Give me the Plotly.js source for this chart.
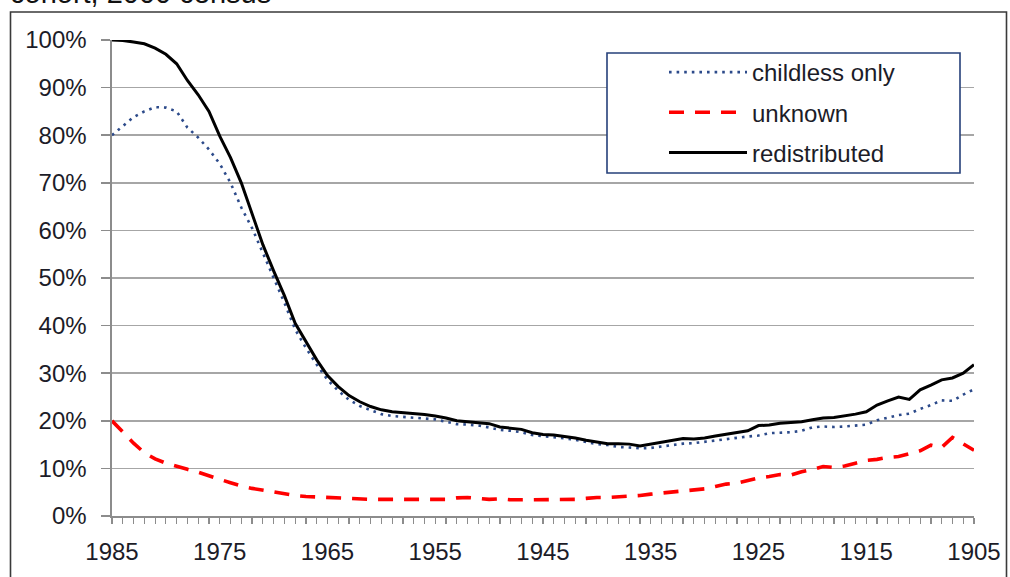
<!DOCTYPE html>
<html>
<head>
<meta charset="utf-8">
<script src="https://cdn.plot.ly/plotly-3.0.1.min.js"></script>
<style>html,body{margin:0;padding:0;background:#fff;}#chart{width:1010px;height:577px;}</style>
</head>
<body>
<div id="chart"></div>
<script>
// Birth cohort years (x axis runs from 1985 down to 1905)
const years = [];
for (let y = 1985; y >= 1905; y--) years.push(y);

// share childless only (1985 ... 1905)
const childlessOnly = [
  80.0, 82.0, 83.8, 85.0, 85.9, 85.8, 85.0, 81.6, 79.5, 77.0,
  74.0, 70.0, 64.8, 60.5, 55.3, 50.0, 44.8, 39.2, 35.3, 31.8,
  28.6, 26.3, 24.4, 23.1, 22.2, 21.4, 21.0, 20.8, 20.6, 20.5,
  20.3, 19.8, 19.3, 19.2, 19.0, 18.6, 18.1, 17.9, 17.6, 17.0,
  16.8, 16.6, 16.3, 16.0, 15.5, 15.1, 14.9, 14.5, 14.4, 14.2,
  14.3, 14.6, 14.9, 15.2, 15.3, 15.6, 15.9, 16.2, 16.4, 16.7,
  16.9, 17.4, 17.5, 17.6, 17.9, 18.6, 18.8, 18.7, 18.8, 19.0,
  19.2, 20.1, 20.7, 21.2, 21.5, 22.5, 23.3, 24.3, 24.2, 25.5,
  26.6
];

// share unknown
const unknown = [
  20.0, 17.6, 15.3, 13.3, 12.0, 11.1, 10.4, 9.8, 9.2, 8.4,
  7.7, 7.0, 6.3, 5.8, 5.4, 5.0, 4.6, 4.3, 4.1, 4.0,
  3.9, 3.7, 3.6, 3.5, 3.5, 3.5, 3.5, 3.4, 3.4, 3.4,
  3.4, 3.5, 3.8, 3.9, 3.7, 3.5, 3.6, 3.4, 3.4, 3.4,
  3.4, 3.4, 3.4, 3.5, 3.7, 3.9, 3.9, 4.0, 4.1, 4.3,
  4.6, 4.8, 5.0, 5.2, 5.5, 5.7, 6.2, 6.7, 6.9, 7.5,
  8.0, 8.3, 8.7, 8.6, 9.3, 9.8, 10.4, 10.2, 10.5, 11.1,
  11.7, 11.9, 12.3, 12.5, 13.1, 13.7, 14.9, 14.4, 16.5, 15.2,
  13.8
];

// unknown redistributed
const redistributed = [
  100.0, 99.9, 99.6, 99.2, 98.3, 97.0, 95.0, 91.5, 88.5, 85.0,
  79.8, 75.3, 70.0, 63.5, 57.0, 51.5, 46.3, 40.5, 36.5, 32.8,
  29.5, 27.2, 25.3, 24.0, 23.0, 22.3, 21.9, 21.7, 21.6, 21.3,
  21.0, 20.6, 20.0, 19.8, 19.6, 19.4, 18.7, 18.4, 18.2, 17.5,
  17.1, 17.0, 16.7, 16.4, 15.9, 15.5, 15.2, 15.2, 15.1, 14.7,
  15.1, 15.4, 15.8, 16.3, 16.2, 16.4, 16.8, 17.2, 17.6, 17.9,
  19.0, 19.1, 19.5, 19.6, 19.8, 20.2, 20.6, 20.7, 21.0, 21.4,
  21.9, 23.3, 24.2, 25.0, 24.5, 26.5, 27.5, 28.6, 29.0, 30.0,
  31.8
];

const seriesNames = ['childless only', 'unknown', 'redistributed'];
const titleText = 'cohort, 2000 census';

const pct = a => a.map(v => v / 100);

const FONT = 'Liberation Sans, Arial, sans-serif';
const TXT = '#1c1c28';

// plot area in pixels (for converting decorative frame/legend box to paper units)
const L = 112, R = 36, T = 40, B = 61, W = 1010, H = 577;
const pw = W - L - R, ph = H - T - B;
const px = x => (x - L) / pw;
const py = y => (H - B - y) / ph;

const traces = [
  {x: years, y: pct(childlessOnly), name: seriesNames[0], type: 'scatter', mode: 'lines',
   legendgroup: 'a', cliponaxis: false,
   line: {color: '#2c4a8a', width: 2.6, dash: '2.6px,5px'}},
  {x: years, y: pct(unknown), name: seriesNames[1], type: 'scatter', mode: 'lines',
   legendgroup: 'b', cliponaxis: false,
   line: {color: '#ff0000', width: 3.6, dash: '15px,11px'}},
  {x: years, y: pct(redistributed), name: seriesNames[2], type: 'scatter', mode: 'lines',
   legendgroup: 'c', cliponaxis: false,
   line: {color: '#000000', width: 3}}
];

const layout = {
  width: W, height: H,
  margin: {l: L, r: R, t: T, b: B, pad: 0},
  paper_bgcolor: '#ffffff', plot_bgcolor: '#ffffff',
  font: {family: FONT, size: 24, color: TXT},
  showlegend: true,
  legend: {
    x: px(664), y: py(50), xanchor: 'left', yanchor: 'top',
    bgcolor: 'rgba(0,0,0,0)', borderwidth: 0,
    font: {family: FONT, size: 24, color: TXT},
    itemwidth: 78, traceorder: 'grouped', tracegroupgap: 6
  },
  xaxis: {
    range: [1985, 1905], tick0: 1985, dtick: 10,
    showgrid: false, zeroline: false,
    showline: true, linecolor: '#8c8c8c', linewidth: 1.6,
    ticks: 'outside', ticklen: 6, tickwidth: 1.2, tickcolor: '#8c8c8c',
    tickfont: {family: FONT, size: 24, color: TXT},
    ticklabelstandoff: 8,
    minor: {dtick: 1, ticks: 'outside', ticklen: 6, tickwidth: 1.2, tickcolor: '#8c8c8c', showgrid: false}
  },
  yaxis: {
    range: [0, 1], dtick: 0.1, tickformat: '.0%',
    showgrid: true, gridcolor: '#a6a6a6', gridwidth: 1.6,
    zeroline: false,
    showline: true, linecolor: '#8c8c8c', linewidth: 1.6,
    ticks: 'outside', ticklen: 9, tickwidth: 1.6, tickcolor: '#8c8c8c',
    tickfont: {family: FONT, size: 24, color: TXT},
    ticklabelstandoff: 10
  },
  shapes: [
    {type: 'rect', xref: 'paper', yref: 'paper', layer: 'below',
     x0: px(10.5), x1: px(1006.5), y0: py(620), y1: py(12),
     line: {color: '#3a3a3a', width: 1.6}, fillcolor: 'rgba(0,0,0,0)'},
    {type: 'rect', xref: 'paper', yref: 'paper', layer: 'above',
     x0: px(607), x1: px(960), y0: py(173), y1: py(53),
     line: {color: '#26407a', width: 1.6}, fillcolor: 'rgba(255,255,255,1)'}
  ],
  annotations: [
    {text: titleText, xref: 'paper', yref: 'paper', x: px(8), y: py(-7),
     xanchor: 'left', yanchor: 'middle', showarrow: false,
     font: {family: FONT, size: 29, color: '#111111'}}
  ]
};

Plotly.newPlot('chart', traces, layout, {displayModeBar: false, staticPlot: true});
</script>
</body>
</html>
